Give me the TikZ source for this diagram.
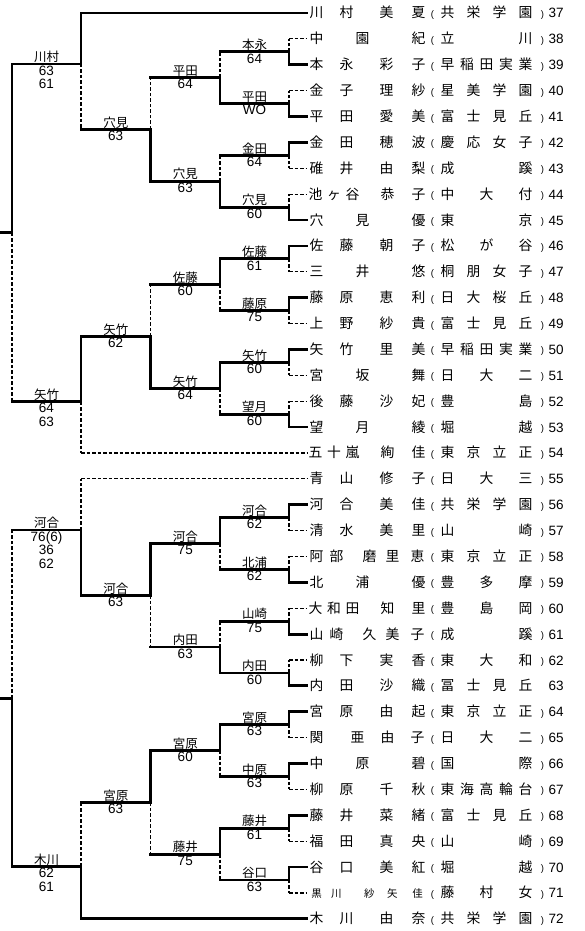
\documentclass[tikz,border=0pt]{standalone}
\usepackage{fontspec}
\setmainfont{Liberation Sans}
\newfontfamily\cjk{Noto Sans CJK JP}
\newcommand\C[2]{\rlap{\hspace*{#1pt}\makebox[0pt]{#2}}}
\newcommand\nTT[4]{\C{316}{#1}\C{346}{#2}\C{386}{#3}\C{418}{#4}}
\newcommand\nTO[3]{\C{316}{#1}\C{362}{#2}\C{418}{#3}}
\newcommand\nHT[5]{\C{315}{#1}\C{333.5}{#2}\C{352}{#3}\C{387}{#4}\C{418}{#5}}
\newcommand\nTH[5]{\C{316}{#1}\C{336}{#2}\C{369}{#3}\C{392}{#4}\C{417}{#5}}
\newcommand\nOH[4]{\C{316}{#1}\C{357}{#2}\C{387}{#3}\C{417}{#4}}
\newcommand\sB[2]{\C{447}{#1}\C{525}{#2}}
\newcommand\sC[3]{\C{447}{#1}\C{486}{#2}\C{525}{#3}}
\newcommand\sD[4]{\C{447}{#1}\C{473}{#2}\C{499}{#3}\C{525}{#4}}
\newcommand\sE[5]{\C{447}{#1}\C{466.5}{#2}\C{486}{#3}\C{505.5}{#4}\C{525}{#5}}
\newcommand\prow[5]{\coordinate (s#1) at (307,#2);\node[rowtxt] (r#1) at (0,{#2+5}) {{\cjk\fontsize{13.8}{14}\selectfont#3#4}{\fontsize{9.5}{10}\selectfont\C{432}{\raisebox{0.5pt}{(}}\C{542}{\raisebox{0.5pt}{#5}}}\rlap{\hspace*{548pt}\fontsize{13.5}{14}\selectfont#1}};}
\newcommand\mt[7]{\coordinate (#1) at (#2,#6);\ifx t#7\draw[win] (#3,#6) -- (#1) -- (#2,#4);\draw[lose] (#1) -- (#2,#5);\else\draw[win] (#3,#6) -- (#1) -- (#2,#5);\draw[lose] (#1) -- (#2,#4);\fi}
\newcommand\lb[5]{\node[lname] (#1n) at (#2,{#3-1.0}) {#4};\node[lscore] (#1s) at (#2,{#3+1.6}) {#5};}
\tikzset{
 win/.style={line width=2.8pt, line cap=rect},
 lose/.style={line width=1.2pt, dash pattern=on 3.5pt off 2pt},
 rowtxt/.style={anchor=base west, inner sep=0pt, outer sep=0pt},
 lname/.style={anchor=south, inner sep=0pt, font=\cjk\fontsize{12.5}{12.5}\selectfont},
 lscore/.style={anchor=north, inner sep=0pt, align=center, font=\fontsize{13.5}{13.3}\selectfont},
}
\begin{document}
\begin{tikzpicture}[x=1pt,y=-1pt]
\useasboundingbox (0,0) rectangle (584,931);
% player rows
\prow{37}{13.00}{\nTT{川}{村}{美}{夏}}{\sD{共}{栄}{学}{園}}{)}
\prow{38}{38.88}{\nTO{中}{園}{紀}}{\sB{立}{川}}{)}
\prow{39}{64.76}{\nTT{本}{永}{彩}{子}}{\sE{早}{稲}{田}{実}{業}}{)}
\prow{40}{90.64}{\nTT{金}{子}{理}{紗}}{\sD{星}{美}{学}{園}}{)}
\prow{41}{116.52}{\nTT{平}{田}{愛}{美}}{\sD{富}{士}{見}{丘}}{)}
\prow{42}{142.40}{\nTT{金}{田}{穂}{波}}{\sD{慶}{応}{女}{子}}{)}
\prow{43}{168.28}{\nTT{碓}{井}{由}{梨}}{\sB{成}{蹊}}{)}
\prow{44}{194.16}{\nHT{池}{ヶ}{谷}{恭}{子}}{\sC{中}{大}{付}}{)}
\prow{45}{220.04}{\nTO{穴}{見}{優}}{\sB{東}{京}}{)}
\prow{46}{245.92}{\nTT{佐}{藤}{朝}{子}}{\sC{松}{が}{谷}}{)}
\prow{47}{271.80}{\nTO{三}{井}{悠}}{\sD{桐}{朋}{女}{子}}{)}
\prow{48}{297.68}{\nTT{藤}{原}{恵}{利}}{\sD{日}{大}{桜}{丘}}{)}
\prow{49}{323.56}{\nTT{上}{野}{紗}{貴}}{\sD{富}{士}{見}{丘}}{)}
\prow{50}{349.44}{\nTT{矢}{竹}{里}{美}}{\sE{早}{稲}{田}{実}{業}}{)}
\prow{51}{375.32}{\nTO{宮}{坂}{舞}}{\sC{日}{大}{二}}{)}
\prow{52}{401.20}{\nTT{後}{藤}{沙}{妃}}{\sB{豊}{島}}{)}
\prow{53}{427.08}{\nTO{望}{月}{綾}}{\sB{堀}{越}}{)}
\prow{54}{452.96}{\nHT{五}{十}{嵐}{絢}{佳}}{\sD{東}{京}{立}{正}}{)}
\prow{55}{478.84}{\nTT{青}{山}{修}{子}}{\sC{日}{大}{三}}{)}
\prow{56}{504.72}{\nTT{河}{合}{美}{佳}}{\sD{共}{栄}{学}{園}}{)}
\prow{57}{530.60}{\nTT{清}{水}{美}{里}}{\sB{山}{崎}}{)}
\prow{58}{556.48}{\nTH{阿}{部}{磨}{里}{恵}}{\sD{東}{京}{立}{正}}{)}
\prow{59}{582.36}{\nTO{北}{浦}{優}}{\sC{豊}{多}{摩}}{)}
\prow{60}{608.24}{\nHT{大}{和}{田}{知}{里}}{\sC{豊}{島}{岡}}{)}
\prow{61}{634.12}{\nTH{山}{崎}{久}{美}{子}}{\sB{成}{蹊}}{)}
\prow{62}{660.00}{\nTT{柳}{下}{実}{香}}{\sC{東}{大}{和}}{)}
\prow{63}{685.88}{\nTT{内}{田}{沙}{織}}{\sD{冨}{士}{見}{丘}}{}
\prow{64}{711.76}{\nTT{宮}{原}{由}{起}}{\sD{東}{京}{立}{正}}{)}
\prow{65}{737.64}{\nOH{関}{亜}{由}{子}}{\sC{日}{大}{二}}{)}
\prow{66}{763.52}{\nTO{中}{原}{碧}}{\sB{国}{際}}{)}
\prow{67}{789.40}{\nTT{柳}{原}{千}{秋}}{\sE{東}{海}{高}{輪}{台}}{)}
\prow{68}{815.28}{\nTT{藤}{井}{菜}{緒}}{\sD{富}{士}{見}{丘}}{)}
\prow{69}{841.16}{\nTT{福}{田}{真}{央}}{\sB{山}{崎}}{)}
\prow{70}{867.04}{\nTT{谷}{口}{美}{紅}}{\sB{堀}{越}}{)}
\prow{71}{892.92}{{\fontsize{10.5}{11}\selectfont\nTH{黒}{川}{紗}{矢}{佳}}}{\sC{藤}{村}{女}}{)}
\prow{72}{918.80}{\nTT{木}{川}{由}{奈}}{\sD{共}{栄}{学}{園}}{)}
% player stubs
\foreach \n/\y in {39/64.76,41/116.52,42/142.40,45/220.04,46/245.92,48/297.68,50/349.44,53/427.08,56/504.72,59/582.36,61/634.12,63/685.88,64/711.76,66/763.52,68/815.28,70/867.04}
  \draw[win] (289,\y) -- (s\n);
\foreach \n/\y in {38/38.88,40/90.64,43/168.28,44/194.16,47/271.80,49/323.56,51/375.32,52/401.20,57/530.60,58/556.48,60/608.24,62/660.00,65/737.64,67/789.40,69/841.16,71/892.92}
  \draw[lose] (289,\y) -- (s\n);
\draw[win] (81,13.00) -- (s37);
\draw[lose] (81,452.96) -- (s54);
\draw[lose] (81,478.84) -- (s55);
\draw[win] (81,918.80) -- (s72);
% round 1
\mt{A1}{289}{220}{38.88}{64.76}{51.82}{b}
\mt{A2}{289}{220}{90.64}{116.52}{103.58}{b}
\mt{A3}{289}{220}{142.40}{168.28}{155.34}{t}
\mt{A4}{289}{220}{194.16}{220.04}{207.10}{b}
\mt{A5}{289}{220}{245.92}{271.80}{258.86}{t}
\mt{A6}{289}{220}{297.68}{323.56}{310.62}{t}
\mt{A7}{289}{220}{349.44}{375.32}{362.38}{t}
\mt{A8}{289}{220}{401.20}{427.08}{414.14}{b}
\mt{B1}{289}{220}{504.72}{530.60}{517.66}{t}
\mt{B2}{289}{220}{556.48}{582.36}{569.42}{b}
\mt{B3}{289}{220}{608.24}{634.12}{621.18}{b}
\mt{B4}{289}{220}{660.00}{685.88}{672.94}{b}
\mt{B5}{289}{220}{711.76}{737.64}{724.70}{t}
\mt{B6}{289}{220}{763.52}{789.40}{776.46}{t}
\mt{B7}{289}{220}{815.28}{841.16}{828.22}{t}
\mt{B8}{289}{220}{867.04}{892.92}{879.98}{t}
% round 2
\mt{C1}{220}{150.5}{51.82}{103.58}{77.70}{b}
\mt{C2}{220}{150.5}{155.34}{207.10}{181.22}{b}
\mt{C3}{220}{150.5}{258.86}{310.62}{284.74}{t}
\mt{C4}{220}{150.5}{362.38}{414.14}{388.26}{t}
\mt{D1}{220}{150.5}{517.66}{569.42}{543.54}{t}
\mt{D2}{220}{150.5}{621.18}{672.94}{647.06}{b}
\mt{D3}{220}{150.5}{724.70}{776.46}{750.58}{t}
\mt{D4}{220}{150.5}{828.22}{879.98}{854.10}{t}
% round 3
\mt{E1}{150.5}{81}{77.70}{181.22}{129.46}{b}
\mt{E2}{150.5}{81}{284.74}{388.26}{336.50}{b}
\mt{F1}{150.5}{81}{543.54}{647.06}{595.30}{t}
\mt{F2}{150.5}{81}{750.58}{854.10}{802.34}{t}
% round 4
\mt{G1}{81}{12}{13.00}{129.46}{64}{t}
\mt{G2}{81}{12}{336.50}{452.96}{401.7}{t}
\mt{H1}{81}{12}{478.84}{595.30}{530}{b}
\mt{H2}{81}{12}{802.34}{918.80}{866.7}{b}
% round 5
\mt{S1}{12}{0}{64}{401.7}{232.85}{t}
\mt{S2}{12}{0}{530}{866.7}{698.35}{b}
% labels
\lb{LA1}{254.5}{51.82}{本永}{64}
\lb{LA2}{254.5}{103.58}{平田}{WO}
\lb{LA3}{254.5}{155.34}{金田}{64}
\lb{LA4}{254.5}{207.10}{穴見}{60}
\lb{LA5}{254.5}{258.86}{佐藤}{61}
\lb{LA6}{254.5}{310.62}{藤原}{75}
\lb{LA7}{254.5}{362.38}{矢竹}{60}
\lb{LA8}{254.5}{414.14}{望月}{60}
\lb{LB1}{254.5}{517.66}{河合}{62}
\lb{LB2}{254.5}{569.42}{北浦}{62}
\lb{LB3}{254.5}{621.18}{山崎}{75}
\lb{LB4}{254.5}{672.94}{内田}{60}
\lb{LB5}{254.5}{724.70}{宮原}{63}
\lb{LB6}{254.5}{776.46}{中原}{63}
\lb{LB7}{254.5}{828.22}{藤井}{61}
\lb{LB8}{254.5}{879.98}{谷口}{63}
\lb{LC1}{185.25}{77.70}{平田}{64}
\lb{LC2}{185.25}{181.22}{穴見}{63}
\lb{LC3}{185.25}{284.74}{佐藤}{60}
\lb{LC4}{185.25}{388.26}{矢竹}{64}
\lb{LD1}{185.25}{543.54}{河合}{75}
\lb{LD2}{185.25}{647.06}{内田}{63}
\lb{LD3}{185.25}{750.58}{宮原}{60}
\lb{LD4}{185.25}{854.10}{藤井}{75}
\lb{LE1}{115.75}{129.46}{穴見}{63}
\lb{LE2}{115.75}{336.50}{矢竹}{62}
\lb{LF1}{115.75}{595.30}{河合}{63}
\lb{LF2}{115.75}{802.34}{宮原}{63}
\lb{LG1}{46.5}{64}{川村}{63\\61}
\lb{LG2}{46.5}{401.7}{矢竹}{64\\63}
\lb{LH1}{46.5}{530}{河合}{76(6)\\36\\62}
\lb{LH2}{46.5}{866.7}{木川}{62\\61}
\end{tikzpicture}
\end{document}
